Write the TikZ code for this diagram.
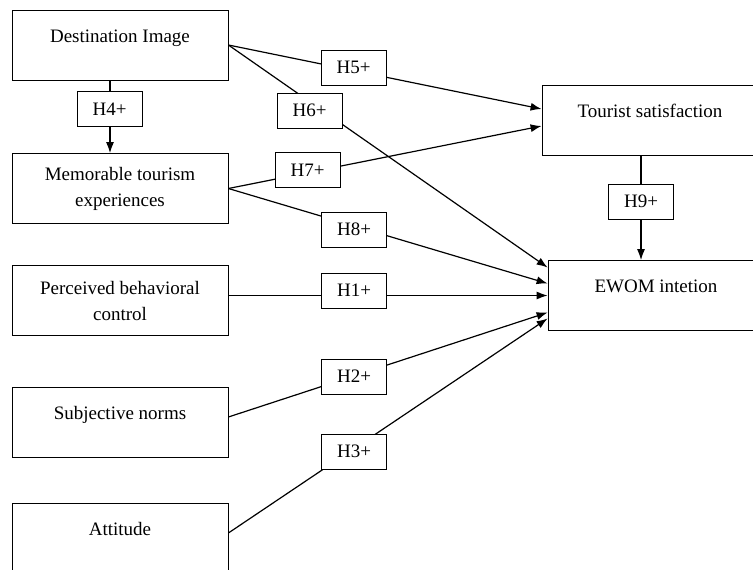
\documentclass[tikz,border=0pt]{standalone}
\usepackage{fontspec}
\setmainfont{Liberation Serif}
\usetikzlibrary{arrows.meta}
\begin{document}
\begin{tikzpicture}[x=1pt, y=-1pt,
    factor/.style = {draw, line width=.8pt, minimum width=216pt, minimum height=70pt, inner sep=0pt, align=center, font=\fontsize{19}{26}\selectfont},
    topline/.style = {text depth=18pt},
    hyp/.style = {draw, line width=.8pt, fill=white, minimum width=65pt, minimum height=35pt, inner sep=0pt, font=\fontsize{19}{22}\selectfont},
    link/.style = {line width=1.2pt, -{Latex[length=11pt, width=8pt]}}]

    \useasboundingbox (0,0) rectangle (753,570);

    \node [factor, topline] (di) at (120,45) {Destination Image};
    \node [factor] (me) at (120,188.5) {Memorable tourism\\experiences};
    \node [factor] (pbc) at (120,300.5) {Perceived behavioral\\control};
    \node [factor, topline] (sn) at (120,422) {Subjective norms};
    \node [factor, topline] (att) at (120,538) {Attitude};
    \node [factor, topline] (ts) at (650,120) {Tourist satisfaction};
    \node [factor, topline] (ew) at (656,295.5) {EWOM intetion};

    \draw [link] ([xshift=-10pt]di.south) -- ([xshift=-10pt]me.north);
    \draw [link] (di.east) -- ([yshift=11pt]ts.west);
    \draw [link] (di.east) -- ([yshift=28pt]ew.west);
    \draw [link] (me.east) -- ([yshift=-6pt]ts.west);
    \draw [link] (me.east) -- ([yshift=12pt]ew.west);
    \draw [link] (pbc.east |- ew.west) -- (ew.west);
    \draw [link] ([yshift=5pt]sn.east) -- ([yshift=-17pt]ew.west);
    \draw [link] ([yshift=5pt]att.east) -- ([yshift=-23pt]ew.west);
    \draw [link] ([xshift=-9pt]ts.south) -- ([xshift=-15pt]ew.north);

    \node [hyp] (h4) at (109.5,109) {H4+};
    \node [hyp] (h5) at (353.5,67.5) {H5+};
    \node [hyp] (h6) at (309.5,110.5) {H6+};
    \node [hyp] (h7) at (307.5,170) {H7+};
    \node [hyp] (h8) at (354,229.5) {H8+};
    \node [hyp] (h1) at (354,290.5) {H1+};
    \node [hyp] (h2) at (354,376.5) {H2+};
    \node [hyp] (h3) at (354,451.5) {H3+};
    \node [hyp] (h9) at (641,201.5) {H9+};

\end{tikzpicture}
\end{document}
